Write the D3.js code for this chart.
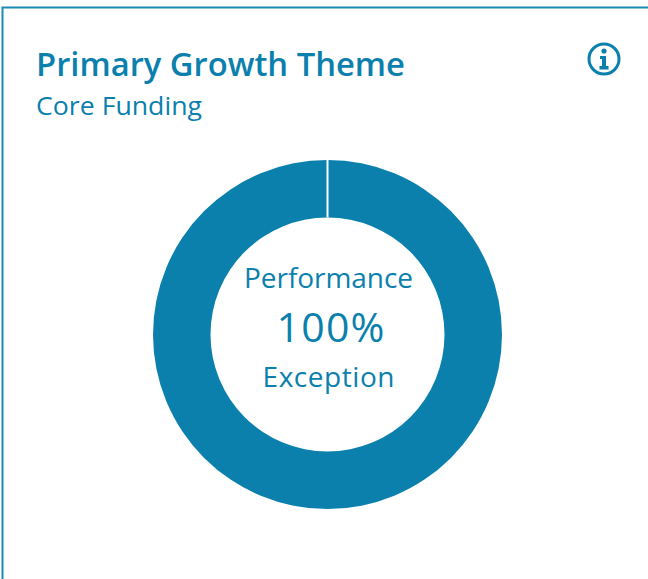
<!DOCTYPE html>
<html><head><meta charset="utf-8">
<script src="https://cdnjs.cloudflare.com/ajax/libs/d3/7.8.5/d3.min.js"></script>
<style>html,body{margin:0;padding:0;background:#fff}svg{display:block}text{font-family:"Open Sans","Noto Sans",sans-serif}</style>
</head><body><svg id="c" width="648" height="579"></svg>
<script>
const categories = ["Exception"];
const values = [100];
const titleText = "Primary Growth Theme";
const subtitleText = "Core Funding";
const centerLines = ["Performance", "100%", "Exception"];
const color = "#0b80ad";
const svg = d3.select("#c");
svg.append("path").attr("d","M2.5 579V7.5H648").attr("fill","none").attr("stroke","#1a8ab5").attr("stroke-width",2);
svg.append("text").attr("x",36).attr("y",76).attr("font-size",33).attr("font-weight",600).attr("fill",color).attr("textLength",369).attr("lengthAdjust","spacingAndGlyphs").text(titleText);
svg.append("text").attr("x",36).attr("y",115).attr("font-size",26).attr("fill",color).attr("textLength",166).attr("lengthAdjust","spacingAndGlyphs").text(subtitleText);
const info = svg.append("g").attr("transform","translate(604,59)");
info.append("circle").attr("r",15).attr("fill","none").attr("stroke",color).attr("stroke-width",3);
info.append("circle").attr("cy",-8).attr("r",2.6).attr("fill",color);
info.append("path").attr("d","M-4 -3H2V7H4.5V10.5H-4.5V7H-2V0H-4Z").attr("fill",color);
const g = svg.append("g").attr("transform","translate(327.5,334.5)");
const pie = d3.pie().sort(null).value(d=>d);
const arc = d3.arc().innerRadius(117).outerRadius(174.5);
g.selectAll("path.s").data(pie(values)).join("path").attr("class","s").attr("d",arc).attr("fill",color);
g.append("line").attr("x1",0).attr("x2",0).attr("y1",-175).attr("y2",-117).attr("stroke","#fff").attr("stroke-width",2);
const sizes=[28,41,28], ys=[-47,7,52], widths=[169,108,132], xs=[1,3,1];
g.selectAll("text.c").data(centerLines).join("text").attr("class","c").attr("text-anchor","middle").attr("x",(d,i)=>xs[i]).attr("y",(d,i)=>ys[i]).attr("font-size",(d,i)=>sizes[i]).attr("fill",color).attr("textLength",(d,i)=>widths[i]).attr("lengthAdjust","spacing").text(d=>d);
</script></body></html>
